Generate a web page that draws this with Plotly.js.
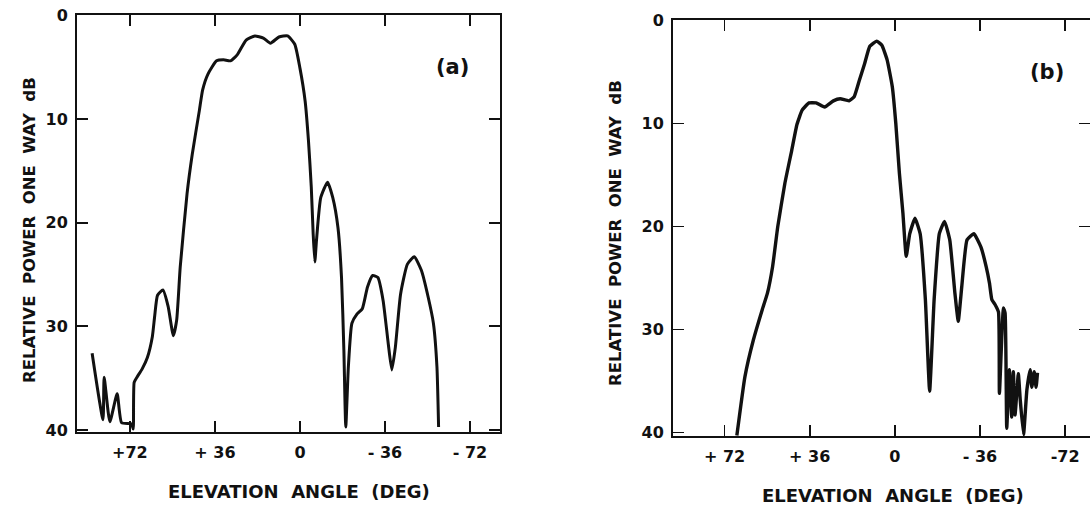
<!DOCTYPE html>
<html>
<head>
<meta charset="utf-8">
<script src="https://cdn.plot.ly/plotly-3.0.1.min.js"></script>
<style>
html,body{margin:0;padding:0;background:#fff;overflow:hidden;}
#chart{width:1090px;height:506px;}
</style>
</head>
<body>
<div id="chart"></div>
<script>
// Panel (a): elevation angle (deg) and relative one-way power (dB)
const anglesA = [88.0, 83.4, 82.9, 80.5, 77.4, 75.5, 71.3, 70.6, 70.2, 69.0, 66.8, 64.6, 62.5, 61.5, 60.3, 58.0, 55.8, 53.6, 52.2, 50.7, 47.8, 45.6, 42.6, 41.2, 39.0, 35.3, 32.4, 29.4, 26.5, 22.8, 19.1, 15.5, 12.5, 8.9, 5.2, 2.2, 0.0, -2.2, -3.6, -4.8, -5.6, -6.3, -7.0, -8.8, -11.7, -13.9, -16.1, -17.6, -18.6, -19.4, -20.5, -22.0, -24.2, -26.4, -28.6, -30.8, -33.0, -35.2, -37.4, -38.9, -40.4, -42.6, -45.5, -48.4, -51.4, -54.3, -56.5, -58.0, -58.7];
const powerA  = [32.6, 39.0, 34.9, 39.2, 36.5, 39.3, 39.4, 39.9, 35.4, 34.9, 34.1, 33.0, 31.0, 29.0, 27.0, 26.5, 28.1, 30.9, 29.4, 24.3, 17.2, 13.4, 9.2, 7.2, 5.7, 4.4, 4.3, 4.4, 3.8, 2.4, 2.0, 2.2, 2.7, 2.1, 2.0, 2.8, 5.1, 8.3, 12.1, 16.6, 21.1, 23.8, 21.7, 17.6, 16.1, 17.6, 20.5, 25.3, 32.3, 39.7, 33.9, 29.7, 28.8, 28.3, 26.2, 25.1, 25.3, 27.5, 31.7, 34.2, 32.0, 26.9, 24.0, 23.3, 24.6, 27.2, 29.7, 33.9, 39.7];

// Panel (b)
const anglesB = [66.8, 63.4, 59.8, 56.1, 53.9, 51.7, 49.5, 46.5, 43.6, 41.4, 39.2, 36.3, 33.3, 29.7, 26.0, 23.1, 19.4, 17.2, 15.0, 12.8, 10.6, 7.7, 5.5, 3.3, 1.1, -0.4, -1.9, -3.4, -4.8, -6.3, -8.5, -10.7, -12.9, -14.7, -16.6, -18.8, -21.0, -23.2, -25.4, -26.8, -28.3, -30.5, -33.4, -36.4, -38.6, -40.0, -41.0, -42.4, -43.8, -44.2, -45.9, -46.6, -47.3, -48.4, -49.4, -50.1, -50.8, -52.2, -53.0, -54.4, -55.8, -57.2, -57.9, -58.9, -59.7, -60.3];
const powerB  = [40.3, 34.6, 31.0, 28.1, 26.5, 23.9, 20.0, 15.8, 12.6, 10.1, 8.7, 8.0, 8.0, 8.4, 7.8, 7.6, 7.8, 7.4, 5.8, 4.2, 2.5, 2.0, 2.4, 3.8, 6.4, 10.0, 14.8, 18.7, 22.9, 20.7, 19.2, 20.7, 27.1, 36.0, 27.1, 20.7, 19.5, 21.3, 26.5, 29.2, 25.8, 21.3, 20.7, 22.0, 23.9, 25.5, 27.1, 27.6, 28.3, 36.2, 27.9, 28.4, 39.6, 33.9, 38.5, 34.1, 38.3, 34.3, 36.8, 40.2, 35.9, 33.9, 35.6, 34.1, 35.6, 34.2];

// Tick labels
const xTickVals = [72, 36, 0, -36, -72];
const xTickTextA = ['+72', '+ 36', '0', '- 36', '- 72'];
const xTickTextB = ['+ 72', '+ 36', '0', '- 36', '-72'];
const yTickVals = [0, 10, 20, 30, 40];
const yTickText = ['0', '10', '20', '30', '40'];
const yInnerTicks = [10, 20, 30];

const W = 1090, H = 506;
const FONT = '"DejaVu Sans", sans-serif';
const INK = '#111';

function xAx(domain, range, text) {
  return {
    domain: domain, range: range, tickmode: 'array', tickvals: xTickVals, ticktext: text,
    ticks: 'inside', ticklen: 11, tickwidth: 1.8, tickcolor: INK,
    showline: true, linecolor: INK, linewidth: 2, mirror: 'ticks',
    showgrid: false, zeroline: false, ticklabelstandoff: 5,
    tickfont: {family: FONT, size: 16, color: INK, weight: 700}
  };
}
function yAx(domain, range, mirror) {
  return {
    domain: domain, range: range, tickmode: 'array', tickvals: yTickVals, ticktext: yTickText,
    ticks: 'inside', ticklen: 11, tickwidth: 1.8, tickcolor: INK,
    showline: true, linecolor: INK, linewidth: 2, mirror: mirror,
    showgrid: false, zeroline: false, ticklabelstandoff: 4,
    tickfont: {family: FONT, size: 16, color: INK, weight: 700}
  };
}

const traces = [
  {x: anglesA, y: powerA, xaxis: 'x', yaxis: 'y', type: 'scatter', mode: 'lines',
   line: {color: INK, width: 3, shape: 'spline', smoothing: 0.5}, showlegend: false, hoverinfo: 'skip'},
  {x: anglesB, y: powerB, xaxis: 'x2', yaxis: 'y2', type: 'scatter', mode: 'lines',
   line: {color: INK, width: 3.4, shape: 'spline', smoothing: 0.4}, showlegend: false, hoverinfo: 'skip'},
  {x: [], y: [], xaxis: 'x2', yaxis: 'y3', type: 'scatter', mode: 'lines', showlegend: false, hoverinfo: 'skip'}
];

function ann(text, px, py, size, angle) {
  return {text: text, xref: 'paper', yref: 'paper', x: px / W, y: 1 - py / H,
    xanchor: 'center', yanchor: 'middle', showarrow: false, textangle: angle || 0,
    font: {family: FONT, size: size, color: INK, weight: 700}};
}

const layout = {
  width: W, height: H, margin: {l: 0, r: 0, t: 0, b: 0},
  paper_bgcolor: '#fff', plot_bgcolor: '#fff', showlegend: false,
  xaxis: Object.assign(xAx([77 / W, 500 / W], [94.4, -84.7], xTickTextA), {anchor: 'y'}),
  yaxis: Object.assign(yAx([1 - 432 / H, 1 - 15 / H], [40.19, -0.02], 'ticks'), {anchor: 'x'}),
  xaxis2: Object.assign(xAx([673 / W, 1], [93.8, -82.5], xTickTextB), {anchor: 'y2'}),
  yaxis2: Object.assign(yAx([1 - 436 / H, 1 - 20 / H], [40.34, -0.05], false), {anchor: 'x2'}),
  yaxis3: {overlaying: 'y2', anchor: 'x2', side: 'right', range: [40.34, -0.05],
    tickmode: 'array', tickvals: yInnerTicks, ticks: 'inside', ticklen: 11, tickwidth: 1.8,
    tickcolor: INK, showticklabels: false, showline: false, showgrid: false, zeroline: false},
  annotations: [
    ann('RELATIVE  POWER  ONE  WAY  dB', 29, 230, 16.5, -90),
    ann('RELATIVE  POWER  ONE  WAY  dB', 615, 233, 16.5, -90),
    ann('ELEVATION  ANGLE  (DEG)', 299, 491, 18),
    ann('ELEVATION  ANGLE  (DEG)', 893, 495, 18),
    ann('(a)', 452, 67, 21),
    ann('(b)', 1047, 72, 21)
  ]
};

Plotly.newPlot('chart', traces, layout, {staticPlot: true, displayModeBar: false});
</script>
</body>
</html>
